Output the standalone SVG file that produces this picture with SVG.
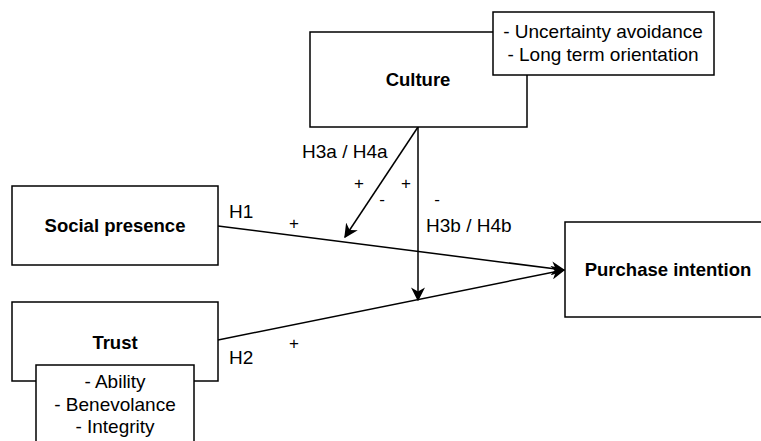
<svg xmlns="http://www.w3.org/2000/svg" width="761" height="441" viewBox="0 0 761 441">
<style>
.box{fill:#fff;stroke:#000;stroke-width:1.5}
.t{font-family:"Liberation Sans",Arial,sans-serif;font-size:19px;fill:#000}
.b{font-weight:bold;text-anchor:middle;font-size:18.5px}
.m{text-anchor:middle}
.s{font-family:"Liberation Sans",Arial,sans-serif;font-size:17px;fill:#000;text-anchor:middle}
.c{fill:none;stroke:#000;stroke-width:1.5}
</style>
<defs>
<marker id="ahb" viewBox="0 0 10 10" refX="9" refY="5" markerWidth="14" markerHeight="14" markerUnits="userSpaceOnUse" orient="auto">
<path d="M0,0 L10,5 L0,10 L3,5 Z" fill="#000"/>
</marker>
</defs>
<g id="connectors">
<line class="c" x1="218" y1="226" x2="564" y2="270" marker-end="url(#ahb)"/>
<line class="c" x1="218" y1="340" x2="564" y2="270" marker-end="url(#ahb)"/>
<line class="c" x1="418" y1="127" x2="418" y2="300" marker-end="url(#ahb)"/>
<line class="c" x1="418" y1="127" x2="345" y2="237" marker-end="url(#ahb)"/>
</g>
<g id="culture">
<rect class="box" x="310" y="32" width="217" height="95"/>
<text class="t b" x="418" y="86">Culture</text>
</g>
<g id="culture-dims">
<rect class="box" x="493" y="12" width="221" height="63"/>
<text class="t m" x="603" y="38">- Uncertainty avoidance</text>
<text class="t m" x="603" y="61">- Long term orientation</text>
</g>
<g id="social-presence">
<rect class="box" x="12" y="186" width="206" height="79"/>
<text class="t b" x="115" y="232">Social presence</text>
</g>
<g id="trust">
<rect class="box" x="12" y="302" width="206" height="79"/>
<text class="t b" x="115" y="349">Trust</text>
</g>
<g id="trust-dims">
<rect class="box" x="36" y="365" width="158" height="90"/>
<text class="t m" x="115" y="388">- Ability</text>
<text class="t m" x="115" y="411">- Benevolance</text>
<text class="t m" x="115" y="433">- Integrity</text>
</g>
<g id="purchase-intention">
<rect class="box" x="565" y="222" width="210" height="95"/>
<text class="t b" x="668" y="276">Purchase intention</text>
</g>
<g id="labels">
<text class="t" x="229" y="218">H1</text>
<text class="t" x="229" y="364">H2</text>
<text class="t" x="302" y="158">H3a / H4a</text>
<text class="t" x="426" y="232">H3b / H4b</text>
<text class="s" x="294" y="229">+</text>
<text class="s" x="294" y="349">+</text>
<text class="s" x="359" y="189">+</text>
<text class="s" x="406" y="189">+</text>
<text class="s" x="382" y="205">-</text>
<text class="s" x="437" y="205">-</text>
</g>
</svg>
